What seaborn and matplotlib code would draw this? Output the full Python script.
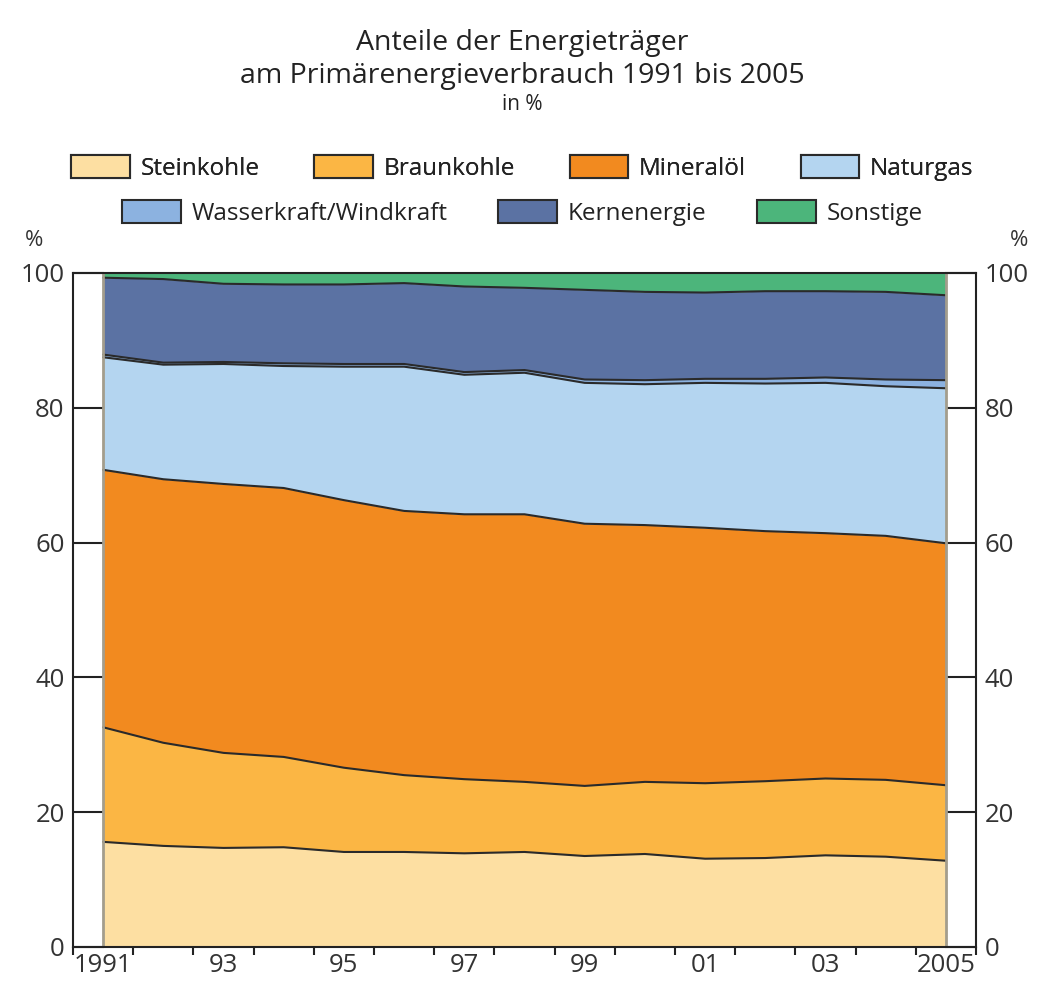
"""
Anteile der Energieträger am Primärenergieverbrauch 1991 bis 2005 (stacked area).
Output: out.png
"""

import matplotlib
matplotlib.use("Agg")
import matplotlib.pyplot as plt
from matplotlib.patches import Patch
from matplotlib.ticker import FixedLocator, NullFormatter
import pandas as pd
import seaborn as sns

# values, in % (bottom to top)
years = list(range(1991, 2006))
steinkohle = [15.6, 15.0, 14.7, 14.8, 14.1, 14.1, 13.9, 14.1, 13.5, 13.8, 13.1, 13.2, 13.6, 13.4, 12.8]
braunkohle = [17.0, 15.3, 14.1, 13.4, 12.5, 11.4, 11.0, 10.4, 10.4, 10.7, 11.2, 11.4, 11.4, 11.4, 11.2]
mineraloel = [38.2, 39.1, 39.9, 39.9, 39.7, 39.2, 39.3, 39.7, 38.9, 38.1, 37.9, 37.1, 36.4, 36.2, 35.9]
naturgas = [16.7, 17.0, 17.8, 18.1, 19.8, 21.4, 20.7, 21.0, 20.9, 20.9, 21.5, 21.9, 22.3, 22.2, 23.0]
wasser_wind = [0.4, 0.3, 0.3, 0.4, 0.4, 0.4, 0.4, 0.4, 0.5, 0.6, 0.6, 0.7, 0.8, 1.0, 1.2]
kernenergie = [11.4, 12.4, 11.6, 11.7, 11.8, 12.0, 12.7, 12.2, 13.3, 13.1, 12.8, 13.0, 12.8, 13.0, 12.6]
sonstige = [0.7, 0.9, 1.6, 1.7, 1.7, 1.5, 2.0, 2.2, 2.5, 2.8, 2.9, 2.7, 2.7, 2.8, 3.3]

labels = ["Steinkohle", "Braunkohle", "Mineralöl", "Naturgas",
          "Wasserkraft/Windkraft", "Kernenergie", "Sonstige"]
year_labels = ["1991", "93", "95", "97", "99", "01", "03", "2005"]
y_ticks = [0, 20, 40, 60, 80, 100]

colors = ["#FDDFA2", "#FBB644", "#F28A1F", "#B4D5F0", "#8CB2E0", "#5B72A3", "#4CB57B"]
edge = "#2a2a2a"


def main():
    sns.set_style("white")
    plt.rcParams["font.family"] = ["Open Sans", "DejaVu Sans"]
    plt.rcParams["text.color"] = "#222222"

    df = pd.DataFrame({
        labels[0]: steinkohle, labels[1]: braunkohle, labels[2]: mineraloel,
        labels[3]: naturgas, labels[4]: wasser_wind, labels[5]: kernenergie,
        labels[6]: sonstige,
    }, index=years)
    cum = df.cumsum(axis=1)

    fig = plt.figure(figsize=(10.45, 9.85), dpi=100)
    ax = fig.add_axes([73 / 1045, 1 - 947 / 985, 903 / 1045, 674 / 985])

    ax.stackplot(df.index, *[df[c] for c in labels], colors=colors, linewidth=0)
    # dark boundary lines between the layers
    for c in labels[:-1]:
        sns.lineplot(x=cum.index, y=cum[c], color=edge, linewidth=1.5, ax=ax)
    # grey side edges of the area
    for yr in (years[0], years[-1]):
        ax.plot([yr, yr], [0, 100], color="#a39d8c", linewidth=2)

    ax.set_xlim(years[0] - 0.5, years[-1] + 0.5)
    ax.set_ylim(0, 100)
    ax.set_xlabel("")
    ax.set_ylabel("")

    # x: short outward ticks between years, labels on odd years
    ax.xaxis.set_major_locator(FixedLocator([y - 0.5 for y in years] + [years[-1] + 0.5]))
    ax.xaxis.set_major_formatter(NullFormatter())
    ax.xaxis.set_minor_locator(FixedLocator(years[::2]))
    ax.set_xticklabels(year_labels, minor=True)
    ax.tick_params(axis="x", which="major", direction="out", length=6, width=1.5,
                   color="#222222", bottom=True)
    ax.tick_params(axis="x", which="minor", length=0, pad=4, labelsize=18.5,
                   labelcolor="#333333")

    # y: long inward ticks, labels on both sides
    ax.set_yticks(y_ticks)
    ax.tick_params(axis="y", direction="in", length=22, width=1.5, color="#222222",
                   left=True, right=True, labelleft=True, labelright=True,
                   labelsize=18.5, labelcolor="#333333", pad=6)

    for s in ax.spines.values():
        s.set_visible(True)
        s.set_color("#222222")
        s.set_linewidth(1.5)
    ax.set_zorder(1)

    fig.text(34 / 1045, 1 - 240 / 985, "%", ha="center", va="center", fontsize=16, color="#333333")
    fig.text(1019 / 1045, 1 - 240 / 985, "%", ha="center", va="center", fontsize=16, color="#333333")

    # title
    fig.text(0.5, 1 - 43 / 985, "Anteile der Energieträger", ha="center", va="center", fontsize=20.5)
    fig.text(0.5, 1 - 76 / 985, "am Primärenergieverbrauch 1991 bis 2005", ha="center",
             va="center", fontsize=20.5)
    fig.text(0.5, 1 - 105 / 985, "in %", ha="center", va="center", fontsize=15)

    handles = [Patch(facecolor=c, edgecolor=edge, linewidth=1.5) for c in colors]
    leg_kw = dict(frameon=False, fontsize=17.5, handlelength=2.4, handleheight=1.1,
                  handletextpad=0.45, borderpad=0, loc="center")
    leg1 = fig.legend(handles[:4], labels[:4], ncol=4, columnspacing=2.25,
                      bbox_to_anchor=(0.5, 1 - 168 / 985), **leg_kw)
    fig.add_artist(leg1)
    fig.legend(handles[4:], labels[4:], ncol=3, columnspacing=2.1,
               bbox_to_anchor=(0.5, 1 - 213 / 985), **leg_kw)

    fig.savefig("out.png", dpi=100)
    plt.close(fig)


if __name__ == "__main__":
    main()
